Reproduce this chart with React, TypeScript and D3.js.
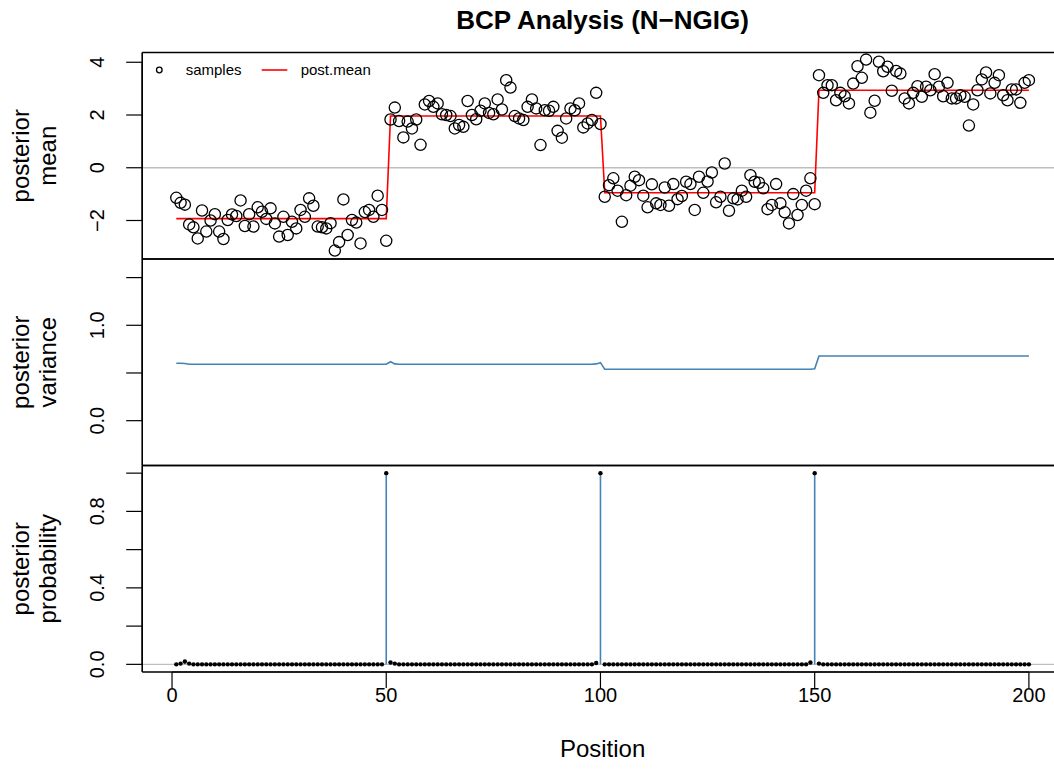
import React from "react";
import * as d3 from "d3";

// ---------- data ----------
const positions: number[] = d3.range(1, 201);

const samples: number[] = [
  -1.14, -1.33, -1.40, -2.15, -2.26, -2.68, -1.62, -2.42, -2.00, -1.76,
  -2.42, -2.70, -1.98, -1.77, -1.83, -1.24, -2.21, -1.76, -2.23, -1.50,
  -1.67, -1.94, -1.54, -2.11, -2.61, -1.86, -2.55, -2.05, -2.30, -1.60,
  -1.86, -1.16, -1.44, -2.23, -2.26, -2.30, -2.10, -3.14, -2.82, -1.20,
  -2.55, -1.98, -2.08, -2.87, -1.68, -1.60, -1.86, -1.06, -1.60, -2.77,
  1.83, 2.28, 1.77, 1.15, 1.75, 1.49, 1.83, 0.87, 2.40, 2.53,
  2.31, 2.44, 2.03, 2.00, 1.96, 1.49, 1.62, 1.55, 2.53, 2.00,
  1.84, 2.16, 2.44, 2.08, 2.03, 2.59, 2.21, 3.32, 3.04, 1.96,
  1.87, 1.81, 2.31, 2.59, 2.25, 0.86, 2.18, 2.16, 2.31, 1.40,
  1.14, 1.87, 2.25, 2.18, 2.44, 1.53, 1.68, 1.81, 2.84, 1.66,
  -1.10, -0.66, -0.40, -0.87, -2.05, -1.04, -0.68, -0.34, -0.47, -1.06,
  -1.50, -0.63, -1.35, -1.41, -0.75, -1.44, -0.62, -1.19, -1.07, -0.53,
  -0.62, -1.60, -0.34, -0.95, -0.52, -0.18, -1.31, -1.10, 0.16, -1.63,
  -1.16, -1.20, -0.87, -1.10, -0.28, -0.53, -0.57, -0.78, -1.57, -1.41,
  -0.62, -1.35, -1.69, -2.11, -1.00, -1.79, -1.41, -0.87, -0.40, -1.38,
  3.51, 2.84, 3.13, 3.13, 2.56, 2.84, 2.71, 2.44, 3.19, 3.85,
  3.41, 4.10, 2.09, 2.54, 4.02, 3.66, 3.83, 2.92, 3.67, 3.57,
  2.63, 2.44, 2.84, 3.09, 2.69, 3.07, 2.94, 3.55, 3.07, 2.71,
  3.22, 2.63, 2.63, 2.75, 2.69, 1.60, 2.40, 2.94, 3.35, 3.61,
  2.82, 3.22, 3.51, 2.75, 2.56, 2.97, 2.97, 2.46, 3.22, 3.32,
];

// posterior mean, read as runs [from, to, value]
const postMeanRuns: [number, number, number][] = [
  [1, 50, -1.93],
  [51, 100, 1.96],
  [101, 150, -0.95],
  [151, 200, 2.94],
];

// posterior variance, read as runs [from, to, value]
const varianceRuns: [number, number, number][] = [
  [1, 2, 0.602],
  [3, 3, 0.6],
  [4, 49, 0.591],
  [50, 50, 0.592],
  [51, 51, 0.618],
  [52, 52, 0.595],
  [53, 98, 0.591],
  [99, 99, 0.595],
  [100, 100, 0.608],
  [101, 149, 0.539],
  [150, 150, 0.545],
  [151, 200, 0.678],
];

// posterior probability: positions with a visible non-zero value; all others read as 0
const probNonZero: [number, number][] = [
  [2, 0.004], [3, 0.015], [4, 0.004],
  [50, 1.0], [51, 0.01], [52, 0.004],
  [99, 0.007], [100, 1.0],
  [149, 0.01], [150, 1.0], [151, 0.004],
];

const xTicks = [0, 50, 100, 150, 200];
const meanTicks = [-2, 0, 2, 4];
const varTicks = [0, 0.5, 1, 1.5];
const varTickLabels = ["0.0", "", "1.0", ""];
const probTicks = [0, 0.2, 0.4, 0.6, 0.8, 1.0];
const probTickLabels = ["0.0", "", "0.4", "", "0.8", ""];

const title = "BCP Analysis (N\u2212NGIG)";
const xLabel = "Position";

// ---------- helpers ----------
function expandRuns(runs: [number, number, number][]): Map<number, number> {
  const m = new Map<number, number>();
  runs.forEach(([a, b, v]) => {
    for (let i = a; i <= b; i++) m.set(i, v);
  });
  return m;
}

const fmtMinus = (s: string) => s.replace("-", "\u2212");

const FONT = "'Liberation Sans', Arial, Helvetica, sans-serif";

export default function App() {
  const W = 1054, H = 783;
  const left = 142.2, right = 1063;
  const pTop = [52.5, 259, 465.5];
  const pBot = [259, 465.5, 672];

  const x = d3.scaleLinear().domain([1 - 7.96, 200 + 7.96]).range([left, right]);
  const yMean = d3.scaleLinear().domain([-3.46, 4.37]).range([pBot[0], pTop[0]]);
  const yVar = d3.scaleLinear().domain([-0.47, 1.695]).range([pBot[1], pTop[1]]);
  const yProb = d3.scaleLinear().domain([-0.04, 1.04]).range([pBot[2], pTop[2]]);

  const pmMap = expandRuns(postMeanRuns);
  const varMap = expandRuns(varianceRuns);
  const probMap = new Map<number, number>(probNonZero);

  const meanRows = positions.map((p, i) => ({ p, s: samples[i], m: pmMap.get(p)! }));
  const varRows = positions.map((p) => ({ p, v: varMap.get(p)! }));
  const probRows = positions.map((p) => ({ p, v: probMap.get(p) ?? 0 }));

  const meanLine = d3.line<{ p: number; m: number }>().x((d) => x(d.p)).y((d) => yMean(d.m));
  const varLine = d3.line<{ p: number; v: number }>().x((d) => x(d.p)).y((d) => yVar(d.v));

  const boxStroke = 1.6;
  const tickLen = 16;
  const axisFont = 20;
  const labFont = 24;
  const steel = "#4682B4";

  const yAxis = (
    scale: d3.ScaleLinear<number, number>,
    ticks: number[],
    labels: string[]
  ) => (
    <g>
      <line x1={left} x2={left} y1={scale(ticks[0])} y2={scale(ticks[ticks.length - 1])} stroke="#000" strokeWidth={1.2} />
      {ticks.map((t, i) => (
        <g key={i}>
          <line x1={left - tickLen} x2={left} y1={scale(t)} y2={scale(t)} stroke="#000" strokeWidth={1.2} />
          {labels[i] !== "" && (
            <text
              transform={`translate(${103.5},${scale(t)}) rotate(-90)`}
              textAnchor="middle"
              fontSize={axisFont}
              fontFamily={FONT}
            >
              {labels[i]}
            </text>
          )}
        </g>
      ))}
    </g>
  );

  const yTitle = (lines: string[], cy: number) => (
    <g>
      {lines.map((l, i) => (
        <text
          key={i}
          transform={`translate(${i === 0 ? 29 : 56},${cy}) rotate(-90)`}
          textAnchor="middle"
          fontSize={labFont}
          fontFamily={FONT}
        >
          {l}
        </text>
      ))}
    </g>
  );

  const box = (k: number) => (
    <g>
      <line x1={left} x2={W} y1={pTop[k]} y2={pTop[k]} stroke="#000" strokeWidth={boxStroke} />
      <line x1={left} x2={W} y1={pBot[k]} y2={pBot[k]} stroke="#000" strokeWidth={boxStroke} />
      <line x1={left} x2={left} y1={pTop[k]} y2={pBot[k]} stroke="#000" strokeWidth={boxStroke} />
    </g>
  );

  return (
    <svg
      width={W}
      height={H}
      viewBox={`0 0 ${W} ${H}`}
      style={{ position: "absolute", left: 0, top: 0, background: "#fff" }}
    >
      <rect x={0} y={0} width={W} height={H} fill="#fff" />
      <text x={(left + right) / 2} y={29} textAnchor="middle" fontSize={26} fontWeight="bold" fontFamily={FONT}>
        {title}
      </text>

      {/* ---- panel 1: posterior mean ---- */}
      <line x1={left} x2={W} y1={yMean(0)} y2={yMean(0)} stroke="#BEBEBE" strokeWidth={1.3} />
      <path d={meanLine(meanRows) || ""} fill="none" stroke="#FF0000" strokeWidth={1.6} />
      {meanRows.map((d) => (
        <circle key={d.p} cx={x(d.p)} cy={yMean(d.s)} r={5.6} fill="none" stroke="#000" strokeWidth={1.3} />
      ))}
      {/* legend */}
      <circle cx={159.3} cy={70} r={2.8} fill="none" stroke="#000" strokeWidth={1.3} />
      <text x={185.7} y={75} fontSize={15} fontFamily={FONT}>samples</text>
      <line x1={261.7} x2={287.3} y1={70} y2={70} stroke="#FF0000" strokeWidth={1.6} />
      <text x={300.7} y={75} fontSize={15} fontFamily={FONT}>post.mean</text>
      {box(0)}
      {yAxis(yMean, meanTicks, meanTicks.map((t) => fmtMinus(String(t))))}
      {yTitle(["posterior", "mean"], (pTop[0] + pBot[0]) / 2)}

      {/* ---- panel 2: posterior variance ---- */}
      <path d={varLine(varRows) || ""} fill="none" stroke={steel} strokeWidth={1.6} />
      {box(1)}
      {yAxis(yVar, varTicks, varTickLabels)}
      {yTitle(["posterior", "variance"], (pTop[1] + pBot[1]) / 2)}

      {/* ---- panel 3: posterior probability ---- */}
      <line x1={left} x2={W} y1={yProb(0)} y2={yProb(0)} stroke="#BEBEBE" strokeWidth={1.3} />
      {probRows.map((d) => (
        <line key={"h" + d.p} x1={x(d.p)} x2={x(d.p)} y1={yProb(0)} y2={yProb(d.v)} stroke={steel} strokeWidth={1.6} />
      ))}
      {probRows.map((d) => (
        <circle key={"c" + d.p} cx={x(d.p)} cy={yProb(d.v)} r={2.2} fill="#000" />
      ))}
      {box(2)}
      {yAxis(yProb, probTicks, probTickLabels)}
      {yTitle(["posterior", "probability"], (pTop[2] + pBot[2]) / 2)}

      {/* ---- x axis ---- */}
      <line x1={x(xTicks[0])} x2={x(xTicks[xTicks.length - 1])} y1={pBot[2]} y2={pBot[2]} stroke="#000" strokeWidth={1.2} />
      {xTicks.map((t) => (
        <g key={t}>
          <line x1={x(t)} x2={x(t)} y1={pBot[2]} y2={pBot[2] + tickLen} stroke="#000" strokeWidth={1.2} />
          <text x={x(t)} y={702} textAnchor="middle" fontSize={axisFont} fontFamily={FONT}>
            {t}
          </text>
        </g>
      ))}
      <text x={(left + right) / 2} y={756.5} textAnchor="middle" fontSize={labFont} fontFamily={FONT}>
        {xLabel}
      </text>
    </svg>
  );
}
